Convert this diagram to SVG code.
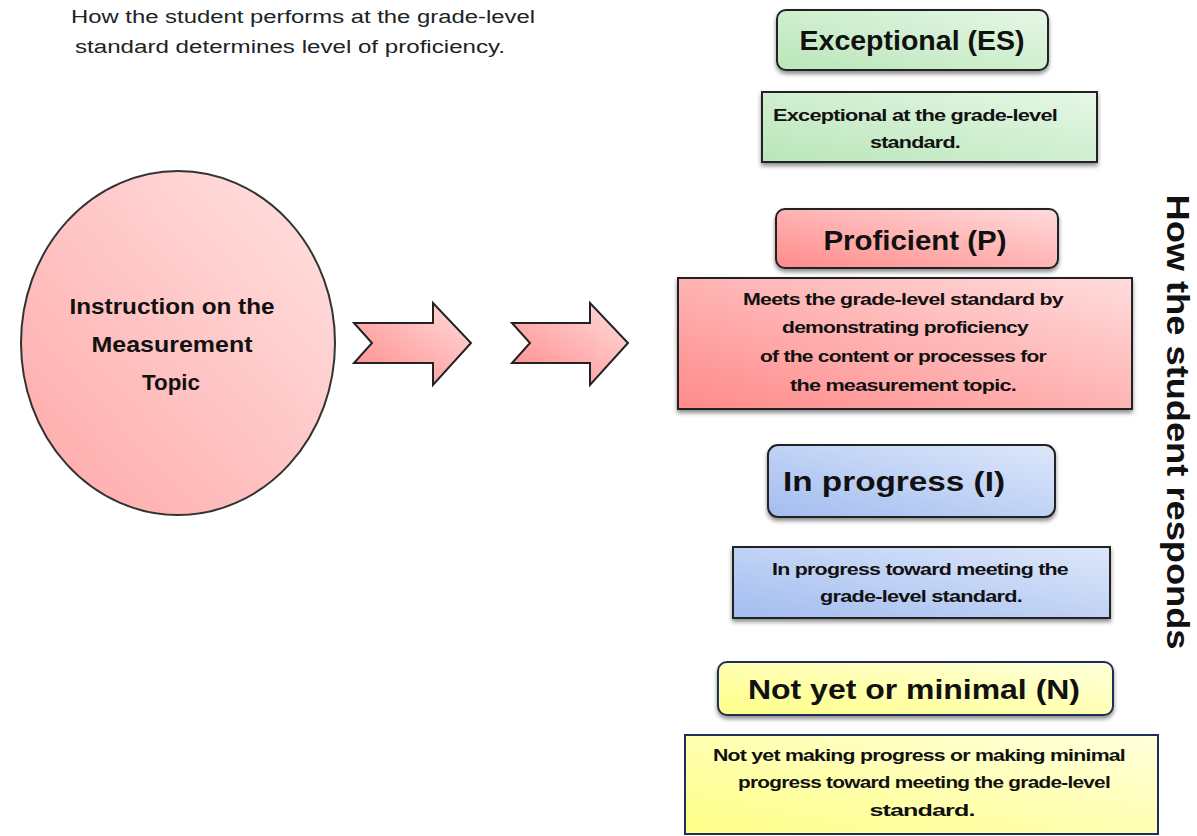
<svg xmlns="http://www.w3.org/2000/svg" width="1197" height="836" viewBox="0 0 1197 836">
<defs>
<linearGradient id="gGreen" x1="0" y1="1" x2="1" y2="0"><stop offset="0" stop-color="#b9e6b9"/><stop offset="1" stop-color="#e6f7e6"/></linearGradient>
<linearGradient id="gRed" x1="0" y1="1" x2="1" y2="0"><stop offset="0" stop-color="#ff8a8a"/><stop offset="1" stop-color="#ffdcdc"/></linearGradient>
<linearGradient id="gCircle" x1="0" y1="1" x2="1" y2="0"><stop offset="0" stop-color="#ffa8a8"/><stop offset="1" stop-color="#ffe2e2"/></linearGradient>
<linearGradient id="gBlue" x1="0" y1="1" x2="1" y2="0"><stop offset="0" stop-color="#a3bdf0"/><stop offset="1" stop-color="#dde7fa"/></linearGradient>
<linearGradient id="gYellow" x1="0" y1="1" x2="1" y2="0"><stop offset="0" stop-color="#ffff88"/><stop offset="1" stop-color="#ffffdc"/></linearGradient>
<filter id="sh" x="-10%" y="-20%" width="120%" height="150%"><feDropShadow dx="0" dy="3" stdDeviation="2" flood-color="#000" flood-opacity="0.45"/></filter>
</defs>
<style>
.t{font-family:"Liberation Sans",Arial,sans-serif;font-weight:bold;fill:#111;text-anchor:middle}
.title{font-size:28px}
.desc{font-size:17px;letter-spacing:-0.6px}
.box{stroke:#222;stroke-width:2}
.top{font-family:"Liberation Sans",Arial,sans-serif;font-size:18px;fill:#222;text-anchor:middle}
</style>
<g id="caption">
<text class="top" x="303" y="23" textLength="464" lengthAdjust="spacingAndGlyphs">How the student performs at the grade-level</text>
<text class="top" x="290" y="53" textLength="430" lengthAdjust="spacingAndGlyphs">standard determines level of proficiency.</text>
</g>
<g id="instruction">
<ellipse cx="178" cy="343" rx="157" ry="172" fill="url(#gCircle)" stroke="#333" stroke-width="2"/>
<text class="t" style="font-size:22px" x="172" y="314" textLength="205" lengthAdjust="spacingAndGlyphs">Instruction on the</text>
<text class="t" style="font-size:22px" x="172" y="352" textLength="161" lengthAdjust="spacingAndGlyphs">Measurement</text>
<text class="t" style="font-size:22px" x="171" y="390" textLength="58" lengthAdjust="spacingAndGlyphs">Topic</text>
</g>
<g id="connectors">
<path d="M354,323 L433,323 L433,303 L471,343 L433,385 L433,363 L354,363 L372,343 Z" fill="url(#gRed)" stroke="#222" stroke-width="2"/>
<path d="M512,323 L590,323 L590,303 L628,343 L590,385 L590,363 L512,363 L530,343 Z" fill="url(#gRed)" stroke="#222" stroke-width="2"/>
</g>
<g id="es-title">
<rect class="box" x="777" y="10" width="271" height="60" rx="9" fill="url(#gGreen)" filter="url(#sh)"/>
<text class="t title" x="912" y="50" textLength="225" lengthAdjust="spacingAndGlyphs">Exceptional (ES)</text>
</g>
<g id="es-desc">
<rect class="box" x="762" y="92" width="335" height="70" fill="url(#gGreen)" filter="url(#sh)"/>
<text class="t desc" x="915" y="121" textLength="284" lengthAdjust="spacingAndGlyphs">Exceptional at the grade-level</text>
<text class="t desc" x="915" y="148" textLength="90" lengthAdjust="spacingAndGlyphs">standard.</text>
</g>
<g id="p-title">
<rect class="box" x="776" y="209" width="282" height="59" rx="9" fill="url(#gRed)" filter="url(#sh)"/>
<text class="t title" x="915" y="250" textLength="183" lengthAdjust="spacingAndGlyphs">Proficient (P)</text>
</g>
<g id="p-desc">
<rect class="box" x="678" y="278" width="454" height="131" fill="url(#gRed)" filter="url(#sh)"/>
<text class="t desc" x="903" y="305" textLength="320" lengthAdjust="spacingAndGlyphs">Meets the grade-level standard by</text>
<text class="t desc" x="905" y="333" textLength="246" lengthAdjust="spacingAndGlyphs">demonstrating proficiency</text>
<text class="t desc" x="903" y="362" textLength="286" lengthAdjust="spacingAndGlyphs">of the content or processes for</text>
<text class="t desc" x="903" y="391" textLength="226" lengthAdjust="spacingAndGlyphs">the measurement topic.</text>
</g>
<g id="i-title">
<rect class="box" x="768" y="445" width="287" height="72" rx="10" fill="url(#gBlue)" filter="url(#sh)"/>
<text class="t title" x="894" y="491" textLength="222" lengthAdjust="spacingAndGlyphs">In progress (I)</text>
</g>
<g id="i-desc">
<rect class="box" x="733" y="547" width="377" height="71" fill="url(#gBlue)" filter="url(#sh)"/>
<text class="t desc" x="920" y="575" textLength="296" lengthAdjust="spacingAndGlyphs">In progress toward meeting the</text>
<text class="t desc" x="921" y="602" textLength="202" lengthAdjust="spacingAndGlyphs">grade-level standard.</text>
</g>
<g id="n-title">
<rect x="718" y="662" width="395" height="53" rx="9" fill="url(#gYellow)" stroke="#1f2f5a" stroke-width="2" filter="url(#sh)"/>
<text class="t title" x="914" y="699" textLength="332" lengthAdjust="spacingAndGlyphs">Not yet or minimal (N)</text>
</g>
<g id="n-desc">
<rect x="685" y="735" width="473" height="99" fill="url(#gYellow)" stroke="#1f2f5a" stroke-width="2"/>
<text class="t desc" x="919" y="761" textLength="412" lengthAdjust="spacingAndGlyphs">Not yet making progress or making minimal</text>
<text class="t desc" x="924" y="788" textLength="372" lengthAdjust="spacingAndGlyphs">progress toward meeting the grade-level</text>
<text class="t desc" x="922" y="816" textLength="105" lengthAdjust="spacingAndGlyphs">standard.</text>
</g>
<g id="side-label">
<text class="t" style="font-size:31px" transform="translate(1167,422) rotate(90)" x="0" y="0" textLength="455" lengthAdjust="spacingAndGlyphs">How the student responds</text>
</g>
</svg>
